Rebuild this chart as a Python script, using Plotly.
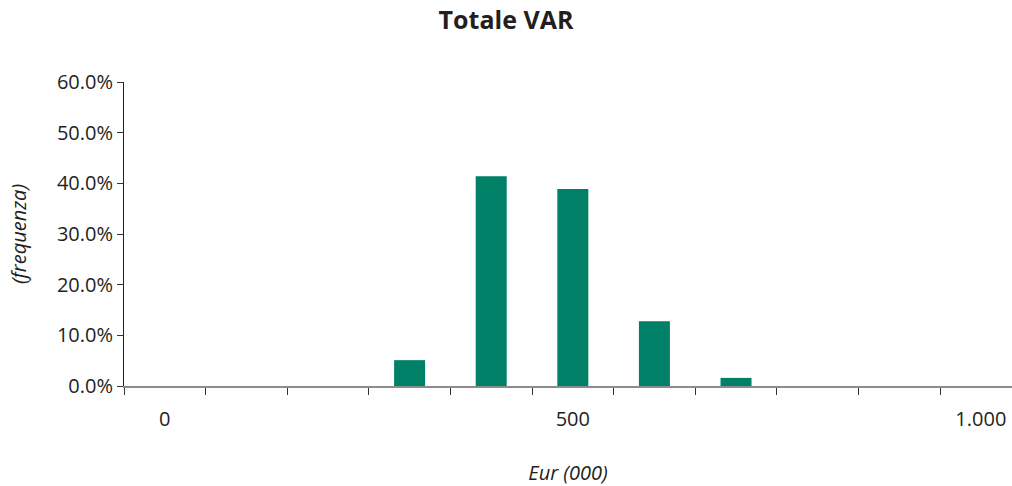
import plotly.graph_objects as go

categories = [0, 100, 200, 300, 400, 500, 600, 700, 800, 900, 1000]
frequencies = [0.0, 0.0, 0.0, 0.051, 0.414, 0.389, 0.128, 0.016, 0.0, 0.0, 0.0]
x_tick_vals = [0, 500, 1000]
x_tick_text = ["0", "500", "1.000"]
bin_edges = [-50, 50, 150, 250, 350, 450, 550, 650, 750, 850, 950, 1050]

FONT = "'Open Sans', Lato, sans-serif"

fig = go.Figure()
fig.add_trace(go.Bar(x=categories, y=frequencies, marker=dict(color="#008066", line=dict(width=0)),
                     width=38, hoverinfo="x+y"))

fig.update_layout(
    width=1012, height=486,
    margin=dict(l=124, r=0, t=82, b=100),
    paper_bgcolor="white", plot_bgcolor="white",
    showlegend=False,
    title=dict(text="<b>Totale VAR</b>", x=0.5, xanchor="center", y=0.958, yanchor="middle",
               font=dict(family=FONT, size=25, color="#231f20")),
    font=dict(family=FONT, color="#231f20"),
)
fig.update_xaxes(
    range=[-50, 1038.2],
    tickvals=x_tick_vals, ticktext=x_tick_text, ticks="",
    tickfont=dict(size=20, color="#231f20"),
    ticklabelstandoff=14,
    showline=True, linecolor="#8c8c8c", linewidth=2,
    showgrid=False, zeroline=False,
    minor=dict(tickvals=bin_edges, ticks="outside", ticklen=7, tickcolor="#333333", tickwidth=1, showgrid=False),
    title=dict(text="<i>Eur (000)</i>", font=dict(size=20, color="#231f20"), standoff=36),
)
fig.update_yaxes(
    range=[0, 0.6], tickvals=[0, 0.1, 0.2, 0.3, 0.4, 0.5, 0.6], tickformat=".1%",
    ticks="outside", ticklen=6, tickcolor="#333333",
    tickfont=dict(size=20, color="#231f20"),
    showline=True, linecolor="#231f20", linewidth=1,
    showgrid=False, zeroline=False,
    title=dict(text="<i>(frequenza)</i>", font=dict(size=20, color="#231f20"), standoff=24),
)

fig.write_html(
    "out.html",
    config={"displayModeBar": False},
    post_script="document.body.style.margin='0';document.body.style.overflow='hidden';",
)
